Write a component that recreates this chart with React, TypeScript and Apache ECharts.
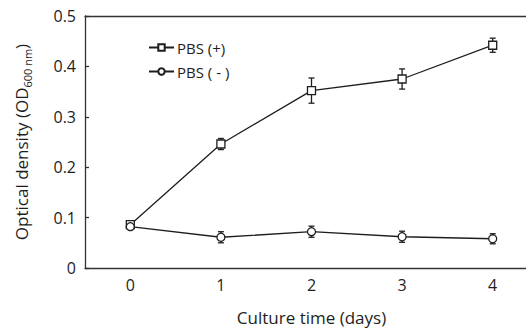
import React, { useEffect, useRef } from "react";
import * as echarts from "echarts";

const days = ["0", "1", "2", "3", "4"];
const pbsPlus = [0.086, 0.246, 0.352, 0.375, 0.442];
const pbsPlusErr = [0.004, 0.011, 0.025, 0.02, 0.014];
const pbsMinus = [0.082, 0.061, 0.072, 0.062, 0.058];
const pbsMinusErr = [0.004, 0.011, 0.011, 0.011, 0.01];
const yTicks = { min: 0, max: 0.5, interval: 0.1 };

const FONT = "'Open Sans', sans-serif";
const INK = "#1e1e1e";

function errorSeries(vals: number[], errs: number[]) {
  return {
    type: "custom",
    z: 1,
    data: vals.map((v, i) => [i, v - errs[i], v + errs[i]]),
    encode: { x: 0, y: [1, 2] },
    renderItem: (_params: any, api: any) => {
      const x = api.value(0);
      const lo = api.coord([x, api.value(1)]);
      const hi = api.coord([x, api.value(2)]);
      const w = 3;
      const style = { stroke: INK, lineWidth: 1.3 };
      return {
        type: "group",
        children: [
          { type: "line", shape: { x1: lo[0], y1: lo[1], x2: hi[0], y2: hi[1] }, style },
          { type: "line", shape: { x1: lo[0] - w, y1: lo[1], x2: lo[0] + w, y2: lo[1] }, style },
          { type: "line", shape: { x1: hi[0] - w, y1: hi[1], x2: hi[0] + w, y2: hi[1] }, style },
        ],
      };
    },
  };
}

export default function App() {
  const ref = useRef<HTMLDivElement>(null);
  useEffect(() => {
    if (!ref.current) return;
    const chart = echarts.init(ref.current, undefined, { renderer: "svg" });
    chart.setOption({
      animation: false,
      backgroundColor: "#fff",
      textStyle: { fontFamily: FONT },
      grid: {
        left: 85,
        top: 16,
        width: 453,
        height: 252,
        outerBoundsMode: "none",
        containLabel: false,
        show: false,
      },
      legend: {
        orient: "vertical",
        left: 143,
        top: 34,
        itemWidth: 25,
        itemHeight: 8,
        itemGap: 7,
        data: ["PBS (+)", "PBS ( - )"],
        textStyle: { fontSize: 15, color: INK, fontFamily: FONT, lineHeight: 17, padding: [0, 0, 0, -2] },
      },
      xAxis: [
        {
          type: "category",
          data: days,
          boundaryGap: true,
          name: "Culture time (days)",
          nameLocation: "middle",
          nameGap: 40,
          nameTextStyle: { fontSize: 17, color: INK, fontFamily: FONT, lineHeight: 18 },
          axisLine: { lineStyle: { color: "#333", width: 1.3 } },
          axisTick: { inside: true, length: 5, lineStyle: { color: "#333", width: 1.3 } },
          axisLabel: { fontSize: 16, color: INK, margin: 9, fontFamily: FONT },
          splitLine: { show: false },
        },
        {
          type: "category",
          data: days,
          position: "top",
          boundaryGap: true,
          axisLine: { show: true, lineStyle: { color: "#333", width: 1.3 } },
          axisTick: { show: false },
          axisLabel: { show: false },
          splitLine: { show: false },
        },
      ],
      yAxis: {
        type: "value",
        min: yTicks.min,
        max: yTicks.max,
        interval: yTicks.interval,
        name: "{a|Optical density (OD}{sub|600 nm}{a|)}",
        nameLocation: "middle",
        nameGap: 52,
        nameTextStyle: {
          rich: {
            a: { fontSize: 17, color: INK, fontFamily: FONT, lineHeight: 24 },
            sub: { fontSize: 11, color: INK, fontFamily: FONT, verticalAlign: "bottom", lineHeight: 24 },
          },
        },
        axisLine: { show: true, lineStyle: { color: "#333", width: 1.3 } },
        axisTick: { show: true, inside: true, length: 4, lineStyle: { color: "#333", width: 1.3 } },
        axisLabel: {
          fontSize: 16,
          color: INK,
          margin: 9,
          fontFamily: FONT,
          formatter: (v: number) => (v === 0 ? "0" : v.toFixed(1)),
        },
        splitLine: { show: false },
      },
      series: [
        errorSeries(pbsPlus, pbsPlusErr),
        errorSeries(pbsMinus, pbsMinusErr),
        {
          name: "PBS (+)",
          type: "line",
          z: 3,
          data: pbsPlus,
          symbol: "rect",
          symbolSize: 8,
          lineStyle: { color: INK, width: 1.3 },
          itemStyle: { color: "#fff", borderColor: INK, borderWidth: 1.3 },
        },
        {
          name: "PBS ( - )",
          type: "line",
          z: 3,
          data: pbsMinus,
          symbol: "circle",
          symbolSize: 8,
          lineStyle: { color: INK, width: 1.3 },
          itemStyle: { color: "#fff", borderColor: INK, borderWidth: 1.3 },
        },
      ],
    });
    return () => chart.dispose();
  }, []);
  return <div ref={ref} style={{ width: 526, height: 328, position: "absolute", left: 0, top: 0 }} />;
}
